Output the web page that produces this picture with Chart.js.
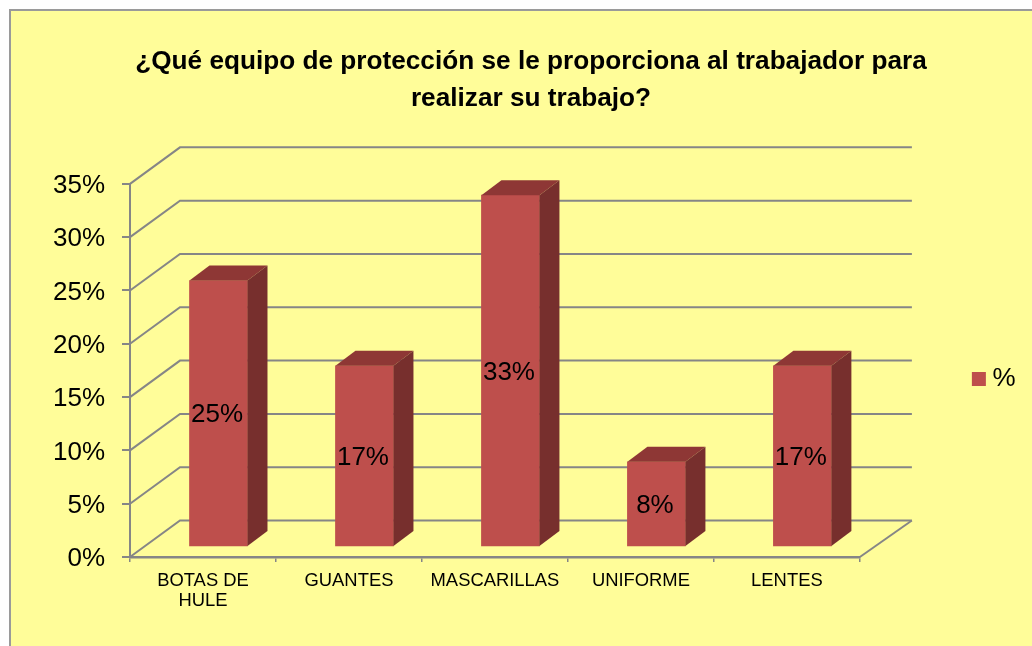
<!DOCTYPE html>
<html>
<head>
<meta charset="utf-8">
<style>html,body{margin:0;padding:0;background:#fff}canvas{display:block}</style>
<script src="https://cdn.jsdelivr.net/npm/chart.js@4"></script>
</head>
<body>
<canvas id="c" width="1032" height="646"></canvas>
<script>
const titleLines = ["¿Qué equipo de protección se le proporciona al trabajador para", "realizar su trabajo?"];
const categories = [["BOTAS DE", "HULE"], "GUANTES", "MASCARILLAS", "UNIFORME", "LENTES"];
const seriesName = "%";
const seriesValues = [25, 17, 33, 8, 17];

const FONT = '"Liberation Sans", Arial, sans-serif';
const AXIS = "#868686";
const BAR_COLOR = "#BE4F4C";
const WALL_DX = 50, WALL_DY = 36.5;
const BAR_DX = 15.5, BAR_DY = -10;
const SIDE_DX = 20, SIDE_DY = 15;

const scene = {
  id: "scene",
  beforeDraw(chart) {
    const c = chart.ctx;
    c.save();
    c.fillStyle = "#ffffff";
    c.fillRect(0, 0, chart.width, chart.height);
    c.fillStyle = "#FFFD99";
    c.fillRect(10, 10, chart.width, chart.height);
    c.strokeStyle = "#9a9a9a";
    c.lineWidth = 2;
    c.beginPath();
    c.moveTo(10, chart.height);
    c.lineTo(10, 10);
    c.lineTo(chart.width, 10);
    c.stroke();
    c.restore();
  },
  afterLayout(chart) {
    const l = chart.legend;
    l.left -= 6.5; l.right -= 6.5;
    l.top += 56; l.bottom += 56;
  },
  beforeDatasetsDraw(chart) {
    const c = chart.ctx, y = chart.scales.y, a = chart.chartArea;
    c.save();
    c.strokeStyle = AXIS;
    c.lineWidth = 2;
    y.ticks.forEach(t => {
      const py = y.getPixelForValue(t.value);
      c.beginPath();
      c.moveTo(a.left, py);
      c.lineTo(a.left + WALL_DX, py - WALL_DY);
      c.lineTo(a.right + WALL_DX + 2, py - WALL_DY);
      c.stroke();
    });
    c.beginPath();
    c.moveTo(a.right, a.bottom);
    c.lineTo(a.right + WALL_DX + 2, a.bottom - WALL_DY);
    c.stroke();
    c.restore();
    c.save();
    c.translate(BAR_DX, BAR_DY);
  },
  afterDatasetsDraw(chart) {
    const c = chart.ctx;
    const bars = chart.getDatasetMeta(0).data;
    bars.forEach(b => {
      const l = b.x - b.width / 2, r = b.x + b.width / 2;
      c.fillStyle = "#8E3735";
      c.beginPath();
      c.moveTo(l, b.y);
      c.lineTo(l + SIDE_DX, b.y - SIDE_DY);
      c.lineTo(r + SIDE_DX, b.y - SIDE_DY);
      c.lineTo(r, b.y);
      c.closePath();
      c.fill();
      c.fillStyle = "#772F2D";
      c.beginPath();
      c.moveTo(r, b.y);
      c.lineTo(r + SIDE_DX, b.y - SIDE_DY);
      c.lineTo(r + SIDE_DX, b.base - SIDE_DY);
      c.lineTo(r, b.base);
      c.closePath();
      c.fill();
    });
    c.fillStyle = "#000";
    c.font = "26px " + FONT;
    c.textAlign = "center";
    c.textBaseline = "middle";
    bars.forEach((b, i) => {
      c.fillText(seriesValues[i] + "%", b.x - 1.5, (b.y + b.base) / 2 + 2);
    });
    c.restore();
  }
};

new Chart(document.getElementById("c"), {
  type: "bar",
  data: {
    labels: categories,
    datasets: [{
      label: seriesName,
      data: seriesValues,
      backgroundColor: BAR_COLOR,
      borderWidth: 0,
      barThickness: 58
    }]
  },
  plugins: [scene],
  options: {
    responsive: false,
    animation: false,
    layout: { padding: { left: 30, right: 0, top: 0, bottom: 0 } },
    plugins: {
      tooltip: { enabled: false },
      title: {
        display: true,
        text: titleLines,
        color: "#000",
        font: { family: FONT, size: 26.2, weight: "bold", lineHeight: 1.4 },
        padding: { top: 43.5, bottom: 67 }
      },
      legend: {
        display: true,
        position: "right",
        labels: {
          boxWidth: 1,
          boxHeight: 1,
          padding: 125,
          color: "#000",
          font: { family: FONT, size: 26 },
          generateLabels(chart) {
            return chart.data.datasets.map((d, i) => ({
              text: d.label,
              fillStyle: BAR_COLOR,
              strokeStyle: BAR_COLOR,
              fontColor: "#000",
              lineWidth: 13,
              datasetIndex: i,
              hidden: false
            }));
          }
        }
      }
    },
    scales: {
      y: {
        min: 0,
        max: 35,
        afterFit(s) { s.width = 100; },
        border: { color: AXIS, width: 2 },
        grid: { drawOnChartArea: false, drawTicks: true, tickLength: 8, color: AXIS, lineWidth: 2 },
        ticks: {
          stepSize: 5,
          color: "#000",
          padding: 17,
          labelOffset: 2,
          font: { family: FONT, size: 26 },
          callback: v => v + "%"
        }
      },
      x: {
        afterFit(s) { s.height = 89; },
        border: { color: AXIS, width: 2.5 },
        grid: { drawOnChartArea: false, drawTicks: true, tickLength: 5, color: AXIS, lineWidth: 1.5 },
        ticks: {
          color: "#000",
          padding: 9,
          maxRotation: 0,
          autoSkip: false,
          font: { family: FONT, size: 18.4, lineHeight: 1.1 }
        }
      }
    }
  }
});
</script>
</body>
</html>
